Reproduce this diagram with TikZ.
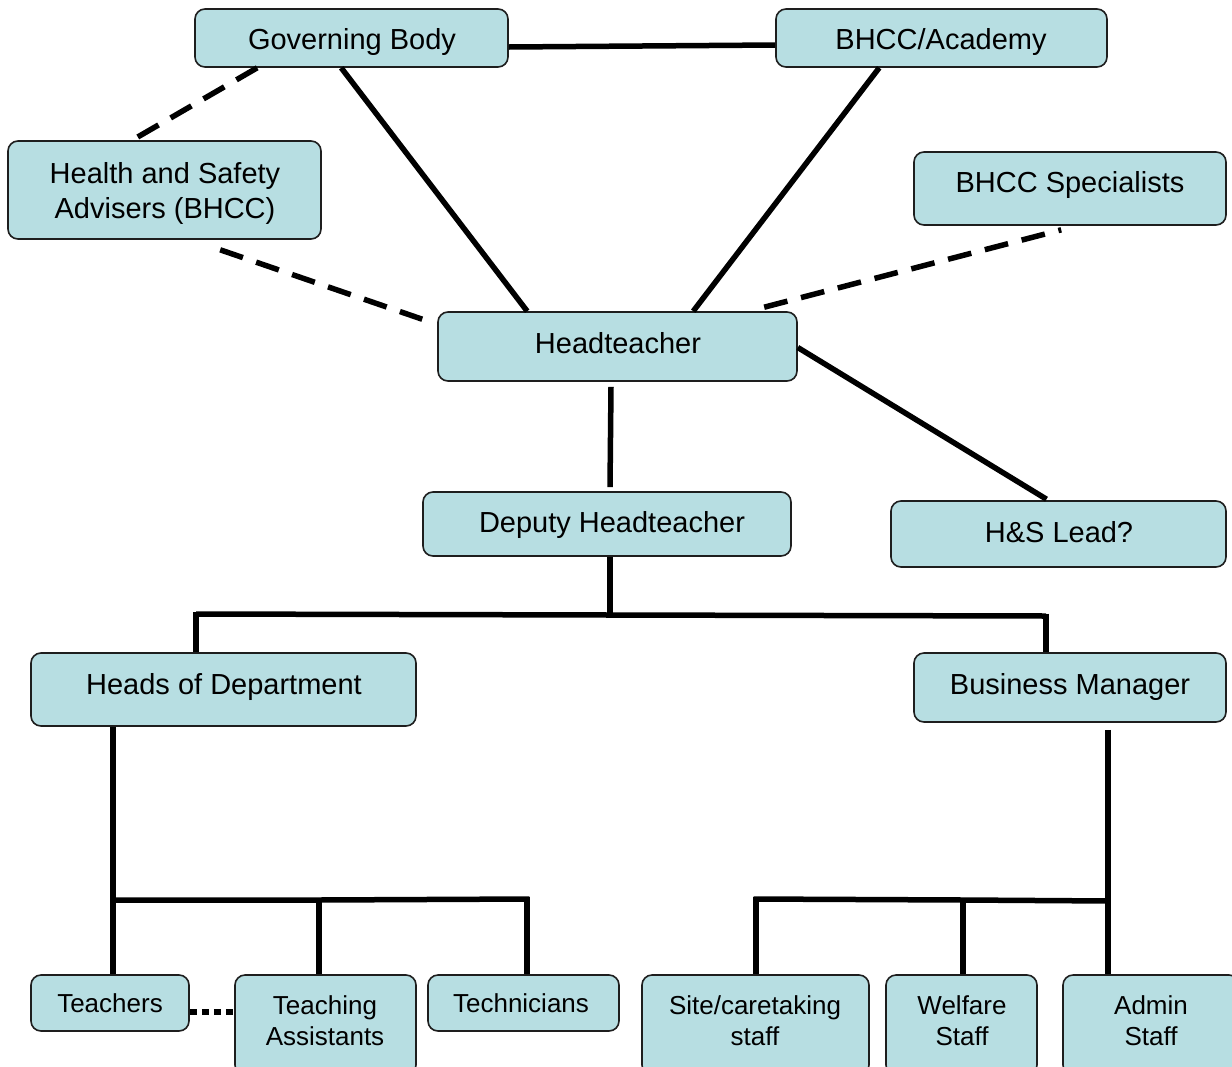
\documentclass[tikz,border=0pt]{standalone}
\usepackage{fontspec}
\setmainfont{Liberation Sans}
\definecolor{boxfill}{RGB}{183,222,226}
\definecolor{boxline}{RGB}{30,30,30}
\begin{document}
\begin{tikzpicture}[x=1pt,y=-1pt,
  box/.style={draw=boxline, line width=1.6pt, fill=boxfill, rounded corners=10pt, inner sep=0pt},
  lbl/.style={inner sep=0pt, align=center, text height=21pt, text depth=0pt, font=\fontsize{29}{35}\selectfont},
  slbl/.style={inner sep=0pt, align=center, text height=18.7pt, text depth=0pt, font=\fontsize{26}{31}\selectfont},
  conn/.style={line width=5.5pt},
  dconn/.style={line width=5.5pt, dash pattern=on 24pt off 14pt},
  dotconn/.style={line width=5.5pt, dash pattern=on 7pt off 5pt}]
\useasboundingbox (0,0) rectangle (1232,1066);
\clip (0,0) rectangle (1232,1066);
\fill[white] (0,0) rectangle (1232,1066);

% junction coordinates
\coordinate (j1) at (610,615);
\coordinate (j1l) at (196,614);
\coordinate (j1r) at (1046,616);
\coordinate (j2l) at (113,900);
\coordinate (j2m) at (319,900);
\coordinate (j2r) at (527,899);
\coordinate (j3l) at (756,899);
\coordinate (j3m) at (963,900);
\coordinate (j3r) at (1108,901);

% boxes
\node[box, minimum width=313, minimum height=58] (gb) at (351.5,38) {};
\node[box, minimum width=331, minimum height=58] (bhcc) at (941.5,38) {};
\node[box, minimum width=313, minimum height=98] (hsa) at (164.5,190) {};
\node[box, minimum width=312, minimum height=73] (spec) at (1070,188.5) {};
\node[box, minimum width=359, minimum height=69] (head) at (617.5,346.5) {};
\node[box, minimum width=368, minimum height=64] (dep) at (607,524) {};
\node[box, minimum width=335, minimum height=66] (lead) at (1058.5,534) {};
\node[box, minimum width=385, minimum height=73] (hod) at (223.5,689.5) {};
\node[box, minimum width=312, minimum height=69] (bm) at (1070,687.5) {};
\node[box, minimum width=158, minimum height=56] (tea) at (110,1003) {};
\node[box, minimum width=181, minimum height=100] (ta) at (325.5,1025) {};
\node[box, minimum width=191, minimum height=56] (tech) at (523.5,1003) {};
\node[box, minimum width=227, minimum height=100] (site) at (755.5,1025) {};
\node[box, minimum width=151, minimum height=100] (wel) at (961.5,1025) {};
\node[box, minimum width=176, minimum height=100] (adm) at (1151,1025) {};

% texts
\node[lbl] (tgb) at (352,39) {Governing Body};
\node[lbl] (tbhcc) at (941,39) {BHCC/Academy};
\node[lbl] (thsa) at (165,208) {Health and Safety\\Advisers (BHCC)};
\node[lbl] (tspec) at (1070,182) {BHCC Specialists};
\node[lbl] (thead) at (618,343) {Headteacher};
\node[lbl] (tdep) at (612,522) {Deputy Headteacher};
\node[lbl] (tlead) at (1059,532) {H\&S Lead?};
\node[lbl] (thod) at (224,684) {Heads of Department};
\node[lbl] (tbm) at (1070,684) {Business Manager};
\node[slbl] (ttea) at (110,1003) {Teachers};
\node[slbl] (tta) at (325,1036) {Teaching\\Assistants};
\node[slbl] (ttech) at (521,1003) {Technicians};
\node[slbl] (tsite) at (755,1036) {Site/caretaking\\staff};
\node[slbl] (twel) at (962,1036) {Welfare\\Staff};
\node[slbl] (tadm) at (1151,1036) {Admin\\Staff};

% solid connectors
\draw[conn] ([yshift=-9pt]gb.east) -- ([yshift=-7pt]bhcc.west);
\draw[conn] ([shift={(147,0)}]gb.south west) -- ([shift={(90,0)}]head.north west);
\draw[conn] ([shift={(104,0)}]bhcc.south west) -- ([shift={(256,0)}]head.north west);
\draw[conn] ([yshift=-1pt]head.east) -- ([shift={(-12,-1)}]lead.north);
\draw[conn] ([shift={(-6.5,5)}]head.south) -- ([shift={(3,-4)}]dep.north);
\draw[conn] (dep.south -| j1) -- (j1);
\draw[conn, line join=miter] (j1l) -- (j1) -- (j1r);
\draw[conn] ([yshift=2.5pt]j1l) -- (hod.north -| j1l);
\draw[conn] ([yshift=2.5pt]j1r) -- (bm.north -| j1r);
\draw[conn] (hod.south -| j2l) -- (j2l) -- (tea.north -| j2l);
\draw[conn] ([xshift=-2.5pt]j2l) -- (j2m) -- ([xshift=2.5pt]j2r);
\draw[conn] (j2m) -- (ta.north -| j2m);
\draw[conn] ([yshift=2.5pt]j2r) -- (tech.north -| j2r);
\draw[conn] ([yshift=-7pt]bm.south -| j3r) -- (j3r) -- (adm.north -| j3r);
\draw[conn] ([xshift=2.5pt]j3r) -- (j3m) -- ([xshift=-2.5pt]j3l);
\draw[conn] ([yshift=2.5pt]j3l) -- (site.north -| j3l);
\draw[conn] (j3m) -- (wel.north -| j3m);

% dashed and dotted connectors
\draw[dconn] ([shift={(63,0)}]gb.south west) -- ([shift={(125,0)}]hsa.north west);
\draw[dconn] ([shift={(213,10)}]hsa.south west) -- ([shift={(-15,8)}]head.north west);
\draw[dconn] ([shift={(327,-4)}]head.north west) -- ([shift={(148,4)}]spec.south west);
\draw[dotconn] ([yshift=-9pt]tea.east) -- ([yshift=13pt]ta.west);
\end{tikzpicture}
\end{document}
